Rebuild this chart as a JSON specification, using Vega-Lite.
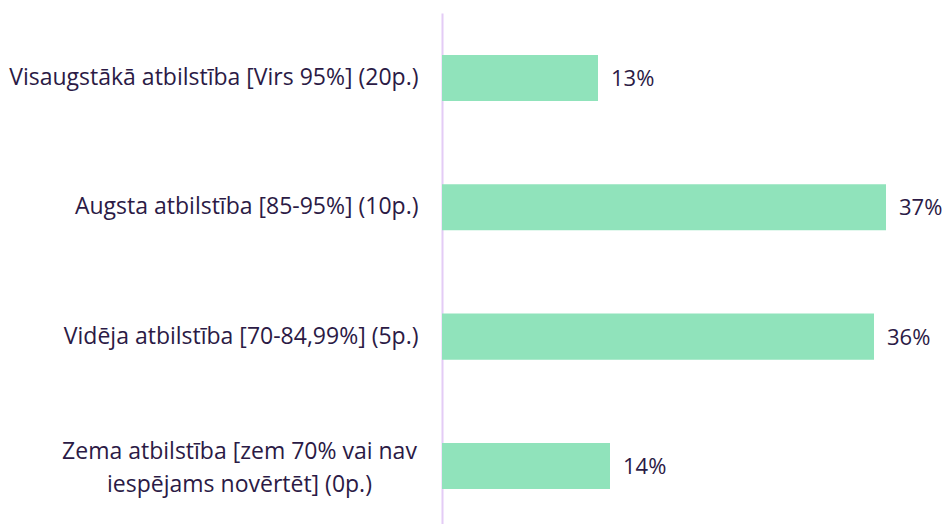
{
  "$schema": "https://vega.github.io/schema/vega-lite/v6.json",
  "autosize": {"type": "none"},
  "padding": {"left": 442, "top": 13, "right": 0, "bottom": 0},
  "width": 504,
  "height": 511,
  "background": "white",
  "config": {
    "view": {"stroke": null},
    "font": "Open Sans"
  },
  "data": {
    "values": [
      {"category": "Visaugstākā atbilstība [Virs 95%] (20p.)", "share": 0.13},
      {"category": "Augsta atbilstība [85-95%] (10p.)", "share": 0.37},
      {"category": "Vidēja atbilstība [70-84,99%] (5p.)", "share": 0.36},
      {"category": "Zema atbilstība [zem 70% vai nav|iespējams novērtēt] (0p.)", "share": 0.14}
    ]
  },
  "encoding": {
    "y": {
      "field": "category",
      "type": "nominal",
      "sort": null,
      "scale": {"paddingInner": 0.644, "paddingOuter": 0.298, "align": 0.545},
      "axis": {
        "title": null,
        "ticks": false,
        "tickSize": 0,
        "grid": false,
        "domainColor": "#E4CCF6",
        "domainWidth": 2,
        "labelFont": "Open Sans",
        "labelFontSize": 23,
        "labelColor": "#2B1A45",
        "labelLimit": 500,
        "labelLineHeight": 33,
        "labelExpr": "split(datum.label, '|')",
        "labelAlign": {"condition": {"test": "indexof(datum.value, 'Zema') == 0", "value": "center"}, "value": "right"},
        "labelPadding": {"condition": {"test": "indexof(datum.value, 'Zema') == 0", "value": 203}, "value": 24},
        "labelOffset": {"condition": {"test": "indexof(datum.value, 'Zema') == 0", "value": -14}, "value": 0}
      }
    },
    "x": {
      "field": "share",
      "type": "quantitative",
      "scale": {"domain": [0, 0.42]},
      "axis": null
    }
  },
  "layer": [
    {"mark": {"type": "bar", "color": "#90E3BB"}},
    {
      "mark": {"type": "text", "align": "left", "baseline": "middle", "dx": 13, "dy": 1, "fontSize": 22, "color": "#2B1A45", "font": "Open Sans"},
      "encoding": {"text": {"field": "share", "type": "quantitative", "format": ".0%"}}
    }
  ]
}
